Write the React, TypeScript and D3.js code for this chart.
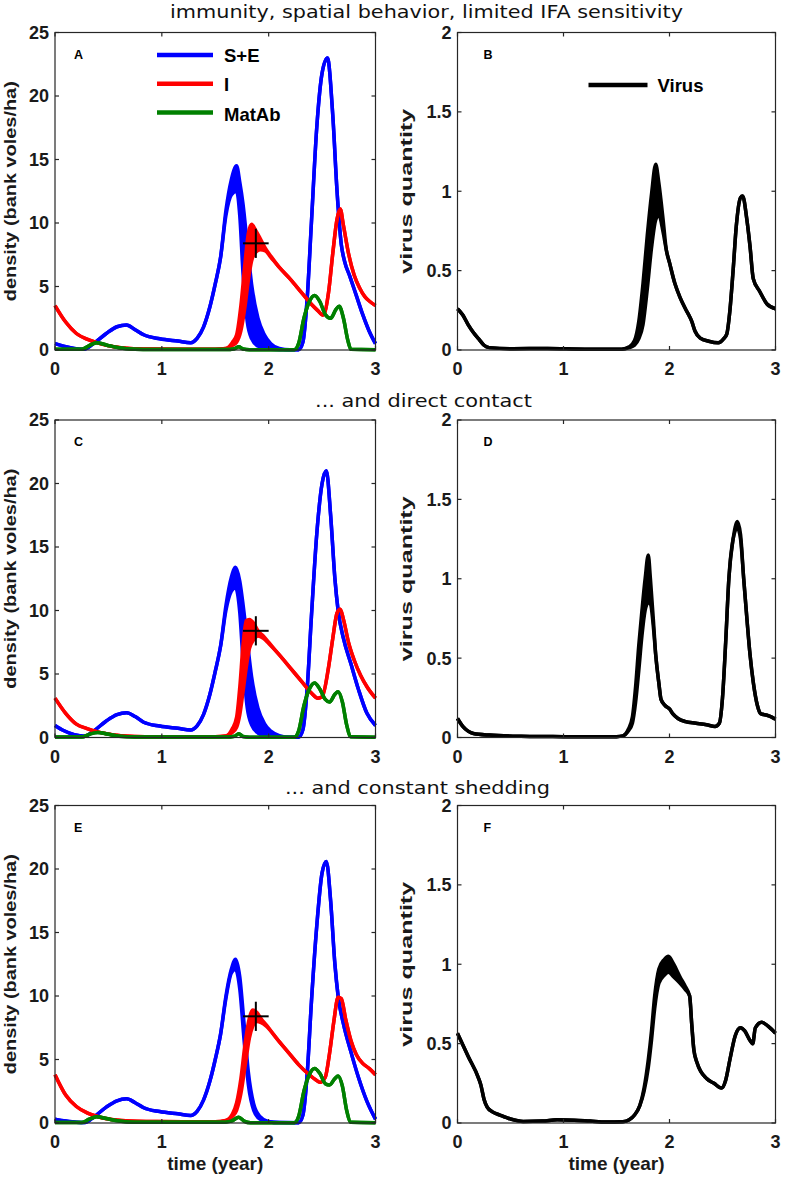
import React from "react";
import * as d3 from "d3";

// [time, low, high] – high is only given where the runs spread into a band
type Pt = [number, number, number?];

const years = [0, 1, 2, 3];
const densityTicks = [0, 5, 10, 15, 20, 25];
const virusTicks = [0, 0.5, 1, 1.5, 2];
const rowTitles = [
  "immunity, spatial behavior, limited IFA sensitivity",
  "... and direct contact",
  "... and constant shedding",
];
const densityNames = ["S+E", "I", "MatAb"];
const virusName = "Virus";
const letters = ["A", "B", "C", "D", "E", "F"];

// observed infected density with error bars
const observed = { t: 1.88, v: 8.4, dt: 0.12, dv: 1.15 };

const seA: Pt[] = [
  [0, 0.5], [0.08, 0.3], [0.18, 0.12], [0.27, 0.05], [0.36, 0.5], [0.48, 1.3], [0.58, 1.83],
  [0.67, 1.97], [0.75, 1.6], [0.83, 1.2], [0.98, 0.88], [1.15, 0.7], [1.27, 0.58], [1.33, 0.92],
  [1.39, 1.8], [1.45, 3.4], [1.5, 5.2], [1.55, 7.3], [1.6, 10.6, 11], [1.65, 12.2, 13.4],
  [1.7, 12.5, 14.5], [1.73, 10.5, 13.2], [1.76, 6, 11.5], [1.8, 2.2, 8.3], [1.84, 0.9, 5.2],
  [1.9, 0.3, 2.5], [1.96, 0.12, 1.2], [2.02, 0.05, 0.5], [2.1, 0.02, 0.12], [2.2, 0.02],
  [2.28, 0.02], [2.32, 0.6], [2.36, 4], [2.4, 10], [2.45, 17.5], [2.5, 21.8], [2.55, 23],
  [2.6, 18.5], [2.64, 12.5], [2.68, 8.3], [2.71, 7], [2.76, 5.8], [2.82, 4.3], [2.88, 2.8],
  [2.94, 1.5], [3, 0.5],
];
const iA: Pt[] = [
  [0, 3.5], [0.1, 2.2], [0.2, 1.3], [0.3, 0.85], [0.42, 0.5], [0.55, 0.25], [0.7, 0.12],
  [0.9, 0.07], [1.2, 0.05], [1.5, 0.06], [1.6, 0.12], [1.66, 0.35, 0.6], [1.7, 0.6, 1.2],
  [1.74, 1.5, 3.5], [1.78, 3.5, 7], [1.81, 5.5, 9.2], [1.84, 7, 9.9], [1.88, 7.7, 9.4],
  [1.92, 7.9, 8.8], [1.97, 7.8, 8.0], [2.02, 7.3, 7.4], [2.1, 6.5], [2.2, 5.6], [2.3, 4.6],
  [2.4, 3.6], [2.46, 3.1], [2.51, 2.75], [2.56, 4.5], [2.6, 7.6], [2.64, 10.3], [2.67, 11.1],
  [2.7, 9.8], [2.75, 7.5], [2.8, 5.9], [2.85, 4.9], [2.9, 4.2], [2.95, 3.8], [3, 3.5],
];
const matA: Pt[] = [
  [0, 0.05], [0.25, 0.05], [0.32, 0.35], [0.39, 0.57], [0.48, 0.4], [0.6, 0.18], [0.75, 0.06],
  [0.9, 0.03], [1.6, 0.03], [1.68, 0.1], [1.72, 0.25], [1.76, 0.08], [1.82, 0.02], [2.24, 0.02],
  [2.28, 0.5], [2.33, 2.5], [2.38, 3.8], [2.43, 4.3], [2.48, 3.8], [2.53, 2.8], [2.58, 2.5],
  [2.63, 3.2], [2.66, 3.45], [2.7, 2.5], [2.74, 0.8], [2.77, 0.05], [3, 0.02],
];

const seC: Pt[] = [
  [0, 0.95], [0.08, 0.55], [0.18, 0.22], [0.28, 0.1], [0.36, 0.5], [0.48, 1.3], [0.58, 1.8],
  [0.67, 1.95], [0.75, 1.65], [0.83, 1.2], [0.98, 0.9], [1.15, 0.72], [1.27, 0.6], [1.33, 0.92],
  [1.39, 1.8], [1.45, 3.4], [1.5, 5.2], [1.55, 7.2], [1.6, 10, 10.4], [1.65, 11.5, 12.6],
  [1.69, 11.8, 13.4], [1.73, 9.8, 12.3], [1.76, 6, 10.5], [1.8, 2.3, 7.6], [1.84, 1, 4.8],
  [1.9, 0.35, 2.3], [1.96, 0.15, 1.1], [2.02, 0.06, 0.5], [2.1, 0.03, 0.15], [2.2, 0.02],
  [2.28, 0.02], [2.32, 0.6], [2.36, 3.8], [2.4, 9.5], [2.45, 16], [2.5, 20], [2.54, 21],
  [2.58, 17.5], [2.62, 12.5], [2.65, 10], [2.7, 7.8], [2.77, 5.8], [2.84, 3.8], [2.92, 1.9],
  [3, 0.95],
];
const iC: Pt[] = [
  [0, 3.1], [0.1, 1.9], [0.2, 1.05], [0.3, 0.7], [0.42, 0.4], [0.55, 0.2], [0.7, 0.1],
  [0.9, 0.06], [1.2, 0.05], [1.5, 0.06], [1.6, 0.12], [1.66, 0.4, 0.7], [1.7, 0.8, 1.6],
  [1.73, 1.8, 4], [1.76, 3.6, 7.3], [1.79, 5.5, 9.2], [1.82, 7, 9.3], [1.86, 7.7, 9],
  [1.9, 8, 8.4], [1.95, 7.8, 8.0], [2.0, 7.4, 7.5], [2.1, 6.5], [2.2, 5.5], [2.3, 4.5],
  [2.4, 3.5], [2.46, 3.1], [2.5, 3.2], [2.56, 5.5], [2.6, 7.8], [2.64, 9.8], [2.67, 10.1],
  [2.7, 9.3], [2.75, 7.4], [2.8, 6.1], [2.86, 4.9], [2.92, 4], [3, 3.1],
];
const matC: Pt[] = [
  [0, 0.03], [0.25, 0.03], [0.32, 0.25], [0.4, 0.4], [0.5, 0.25], [0.6, 0.1], [0.75, 0.04],
  [1.6, 0.03], [1.68, 0.1], [1.72, 0.3], [1.76, 0.08], [1.82, 0.02], [2.24, 0.02], [2.28, 0.5],
  [2.33, 2.5], [2.38, 3.8], [2.43, 4.3], [2.48, 3.8], [2.53, 3], [2.57, 2.8], [2.62, 3.4],
  [2.65, 3.6], [2.69, 2.8], [2.73, 1], [2.77, 0.05], [3, 0.02],
];

const seE: Pt[] = [
  [0, 0.3], [0.1, 0.15], [0.2, 0.05], [0.28, 0.03], [0.36, 0.45], [0.48, 1.25], [0.58, 1.75],
  [0.67, 1.9], [0.75, 1.6], [0.83, 1.2], [0.98, 0.9], [1.15, 0.72], [1.27, 0.6], [1.33, 0.92],
  [1.39, 1.8], [1.45, 3.3], [1.5, 5], [1.55, 7], [1.6, 9.8, 10], [1.65, 11.8, 12.1],
  [1.69, 12.1, 12.9], [1.73, 10.5, 11.5], [1.77, 6.5, 7.8], [1.81, 3, 4], [1.86, 1, 1.5],
  [1.92, 0.3, 0.5], [2, 0.1], [2.1, 0.03], [2.28, 0.02], [2.32, 0.6], [2.36, 3.8], [2.4, 9.5],
  [2.45, 15.5], [2.5, 19.7], [2.54, 20.6], [2.58, 17.5], [2.62, 12.5], [2.65, 10], [2.7, 7.8],
  [2.77, 5.6], [2.84, 3.6], [2.92, 1.7], [3, 0.3],
];
const iE: Pt[] = [
  [0, 3.8], [0.1, 2.2], [0.2, 1.3], [0.3, 0.8], [0.42, 0.45], [0.55, 0.25], [0.7, 0.15],
  [0.9, 0.12], [1.2, 0.1], [1.5, 0.1], [1.6, 0.2], [1.66, 0.5, 0.7], [1.7, 1, 1.6],
  [1.74, 2.3, 3.5], [1.78, 4.5, 6.3], [1.82, 6.7, 8.3], [1.85, 7.6, 8.9], [1.89, 8, 8.7],
  [1.93, 7.9, 8.2], [1.98, 7.6, 7.7], [2.08, 6.6], [2.18, 5.6], [2.28, 4.6], [2.38, 3.8],
  [2.44, 3.4], [2.48, 3.2], [2.53, 3.6], [2.57, 5.5], [2.61, 8], [2.65, 9.9], [2.68, 9.8],
  [2.72, 8.2], [2.77, 6.5], [2.82, 5.4], [2.88, 4.7], [2.94, 4.3], [3, 3.8],
];
const matE: Pt[] = [
  [0, 0.03], [0.25, 0.03], [0.32, 0.3], [0.39, 0.5], [0.48, 0.35], [0.6, 0.15], [0.75, 0.05],
  [1.55, 0.05], [1.65, 0.15], [1.72, 0.45], [1.77, 0.15], [1.83, 0.02], [2.24, 0.02],
  [2.28, 0.5], [2.33, 2.5], [2.38, 3.8], [2.43, 4.3], [2.48, 3.9], [2.53, 3.1], [2.57, 3],
  [2.62, 3.5], [2.65, 3.7], [2.69, 2.9], [2.73, 1], [2.77, 0.05], [3, 0.02],
];

const virusB: Pt[] = [
  [0, 0.26], [0.05, 0.22], [0.1, 0.16], [0.15, 0.11], [0.2, 0.07], [0.25, 0.03], [0.3, 0.015],
  [0.5, 0.008], [0.85, 0.01], [1.2, 0.005], [1.55, 0.005], [1.62, 0.015, 0.02],
  [1.67, 0.03, 0.06], [1.71, 0.07, 0.18], [1.75, 0.16, 0.42], [1.79, 0.38, 0.72],
  [1.83, 0.64, 0.98], [1.87, 0.82, 1.17], [1.9, 0.85, 1.05], [1.94, 0.74, 0.82], [1.97, 0.63],
  [2, 0.55], [2.05, 0.42], [2.1, 0.33], [2.15, 0.26], [2.19, 0.21], [2.21, 0.18], [2.24, 0.12],
  [2.29, 0.075], [2.37, 0.055], [2.46, 0.045], [2.51, 0.07], [2.54, 0.1], [2.57, 0.25],
  [2.6, 0.5], [2.63, 0.78], [2.67, 0.96], [2.69, 0.97], [2.73, 0.82], [2.76, 0.65], [2.79, 0.45],
  [2.85, 0.37], [2.92, 0.29], [3, 0.26],
];
const virusD: Pt[] = [
  [0, 0.12], [0.05, 0.07], [0.1, 0.04], [0.15, 0.025], [0.3, 0.015], [0.6, 0.008], [0.9, 0.006],
  [1.2, 0.004], [1.5, 0.005], [1.56, 0.01], [1.61, 0.04, 0.05], [1.65, 0.09, 0.13],
  [1.68, 0.22, 0.32], [1.71, 0.42, 0.58], [1.74, 0.64, 0.8], [1.77, 0.8, 1], [1.8, 0.85, 1.15],
  [1.82, 0.84, 1], [1.85, 0.68, 0.72], [1.87, 0.52], [1.9, 0.34], [1.92, 0.24], [1.96, 0.2],
  [2, 0.18], [2.03, 0.15], [2.08, 0.12], [2.15, 0.1], [2.25, 0.09], [2.35, 0.08], [2.43, 0.07],
  [2.47, 0.09], [2.5, 0.25], [2.53, 0.6], [2.56, 1], [2.6, 1.25], [2.64, 1.32, 1.36],
  [2.67, 1.25, 1.28], [2.7, 1], [2.73, 0.75], [2.76, 0.52], [2.79, 0.35], [2.83, 0.2],
  [2.86, 0.15], [2.92, 0.14], [2.96, 0.13], [3, 0.115],
];
const virusF: Pt[] = [
  [0, 0.565], [0.1, 0.42], [0.2, 0.28], [0.22, 0.24], [0.25, 0.15], [0.28, 0.1], [0.33, 0.07],
  [0.4, 0.05], [0.5, 0.025], [0.62, 0.01], [0.8, 0.012], [0.94, 0.02], [1.1, 0.018],
  [1.25, 0.012], [1.4, 0.006], [1.56, 0.008], [1.62, 0.02], [1.67, 0.05], [1.72, 0.11],
  [1.76, 0.2, 0.22], [1.8, 0.35, 0.4], [1.83, 0.52, 0.58], [1.86, 0.72, 0.8], [1.9, 0.88, 0.97],
  [1.95, 0.93, 1.03], [1.99, 0.95, 1.05], [2.04, 0.92, 1], [2.1, 0.88, 0.92], [2.15, 0.84, 0.86],
  [2.19, 0.8], [2.21, 0.62], [2.23, 0.46], [2.26, 0.38], [2.35, 0.28], [2.42, 0.25],
  [2.49, 0.22], [2.53, 0.27], [2.57, 0.4], [2.62, 0.55], [2.67, 0.6], [2.71, 0.58],
  [2.76, 0.52], [2.785, 0.5], [2.81, 0.6], [2.87, 0.635], [2.93, 0.61], [3, 0.565],
];

const densityColors = ["#0000ff", "#ff0000", "#008000"];
const densityRows = [
  [seA, iA, matA],
  [seC, iC, matC],
  [seE, iE, matE],
];
const virusRows = [virusB, virusD, virusF];

const W = 785;
const H = 1181;
const rowTop = [32.5, 420, 805.5];
const plotH = 317.5;
const colLeft = [55, 457.5];
const colW = [320.5, 318];
const titleY = [18, 407, 793.5];
const titleSpan = [[170, 683], [315, 532], [285, 550]];
const sans = "'Liberation Sans', Arial, Helvetica, sans-serif";
const axisColor = "#262626";

type PanelProps = {
  row: number;
  col: number;
  series: Pt[][];
  colors: string[];
};

function Panel({ row, col, series, colors }: PanelProps) {
  const left = colLeft[col];
  const top = rowTop[row];
  const w = colW[col];
  const isDensity = col === 0;
  const ticks = isDensity ? densityTicks : virusTicks;
  const x = d3.scaleLinear().domain([0, 3]).range([left, left + w]);
  const y = d3
    .scaleLinear()
    .domain([0, isDensity ? 25 : 2])
    .range([top + plotH, top]);
  const curve = d3.curveMonotoneX;
  const lowLine = d3.line<Pt>().x((d) => x(d[0])).y((d) => y(d[1])).curve(curve);
  const highLine = d3
    .line<Pt>()
    .x((d) => x(d[0]))
    .y((d) => y(d[2] ?? d[1]))
    .curve(curve);
  const band = d3
    .area<Pt>()
    .x((d) => x(d[0]))
    .y0((d) => y(d[1]))
    .y1((d) => y(d[2] ?? d[1]))
    .curve(curve);
  const bottom = top + plotH;
  const tl = 4;

  return (
    <g>
      {series.map((s, i) => (
        <g key={i}>
          <path d={band(s) ?? ""} fill={colors[i]} stroke="none" />
          <path d={lowLine(s) ?? ""} fill="none" stroke={colors[i]} strokeWidth={3.5} strokeLinejoin="round" />
          <path d={highLine(s) ?? ""} fill="none" stroke={colors[i]} strokeWidth={3.5} strokeLinejoin="round" />
        </g>
      ))}

      {isDensity && (
        <g stroke="#000" strokeWidth={2}>
          <line x1={x(observed.t - observed.dt)} x2={x(observed.t + observed.dt)} y1={y(observed.v)} y2={y(observed.v)} />
          <line x1={x(observed.t)} x2={x(observed.t)} y1={y(observed.v - observed.dv)} y2={y(observed.v + observed.dv)} />
        </g>
      )}

      {/* box and inward ticks */}
      <rect x={left} y={top} width={w} height={plotH} fill="none" stroke={axisColor} strokeWidth={1.2} />
      {years.map((t) => (
        <g key={"xt" + t} stroke={axisColor} strokeWidth={1.2}>
          <line x1={x(t)} x2={x(t)} y1={bottom} y2={bottom - tl} />
          <line x1={x(t)} x2={x(t)} y1={top} y2={top + tl} />
        </g>
      ))}
      {ticks.map((v) => (
        <g key={"yt" + v} stroke={axisColor} strokeWidth={1.2}>
          <line x1={left} x2={left + tl} y1={y(v)} y2={y(v)} />
          <line x1={left + w} x2={left + w - tl} y1={y(v)} y2={y(v)} />
        </g>
      ))}
      <g fontFamily={sans} fontWeight="bold" fontSize={18} fill="#1a1a1a">
        {years.map((t) => (
          <text key={"xl" + t} x={x(t)} y={bottom + 25} textAnchor="middle">
            {t}
          </text>
        ))}
        {ticks.map((v) => (
          <text key={"yl" + v} x={left - 6} y={y(v)} dy="0.36em" textAnchor="end">
            {v}
          </text>
        ))}
        <text
          transform={`translate(${isDensity ? 15.5 : 412},${top + plotH / 2}) rotate(-90)`}
          textAnchor="middle"
          fontSize={16}
          textLength={isDensity ? 220 : 165}
          lengthAdjust="spacingAndGlyphs"
        >
          {isDensity ? "density (bank voles/ha)" : "virus quantity"}
        </text>
        {row === 2 && (
          <text x={left + w / 2} y={1170} textAnchor="middle" fontSize={19}>
            time (year)
          </text>
        )}
        <text x={left + (isDensity ? 19 : 26)} y={top + 26} fontSize={12.5} fill="#000">
          {letters[row * 2 + col]}
        </text>
      </g>

      {row === 0 && isDensity && (
        <g fontFamily={sans} fontWeight="bold" fontSize={18.5} fill="#000">
          {densityNames.map((n, i) => (
            <g key={n}>
              <line x1={left + 102} x2={left + 158} y1={top + 22.5 + i * 28.7} y2={top + 22.5 + i * 28.7} stroke={colors[i]} strokeWidth={4.5} />
              <text x={left + 169} y={top + 29.5 + i * 29.3}>
                {n}
              </text>
            </g>
          ))}
        </g>
      )}
      {row === 0 && !isDensity && (
        <g fontFamily={sans} fontWeight="bold" fontSize={18.5} fill="#000">
          <line x1={left + 131} x2={left + 190} y1={top + 52.5} y2={top + 52.5} stroke="#000" strokeWidth={4.5} />
          <text x={left + 200} y={top + 59.5}>
            {virusName}
          </text>
        </g>
      )}
    </g>
  );
}

export default function App() {
  return (
    <svg
      width={W}
      height={H}
      viewBox={`0 0 ${W} ${H}`}
      style={{ position: "absolute", left: 0, top: 0, background: "#fff" }}
    >
      <rect width={W} height={H} fill="#fff" />
      {rowTitles.map((t, i) => (
        <text
          key={t}
          x={titleSpan[i][0]}
          y={titleY[i]}
          textLength={titleSpan[i][1] - titleSpan[i][0]}
          lengthAdjust="spacingAndGlyphs"
          fontFamily="'DejaVu Sans', Verdana, sans-serif"
          fontSize={18}
          fill="#111"
        >
          {t}
        </text>
      ))}
      {densityRows.map((s, r) => (
        <Panel key={"d" + r} row={r} col={0} series={s} colors={densityColors} />
      ))}
      {virusRows.map((s, r) => (
        <Panel key={"v" + r} row={r} col={1} series={[s]} colors={["#000"]} />
      ))}
    </svg>
  );
}
